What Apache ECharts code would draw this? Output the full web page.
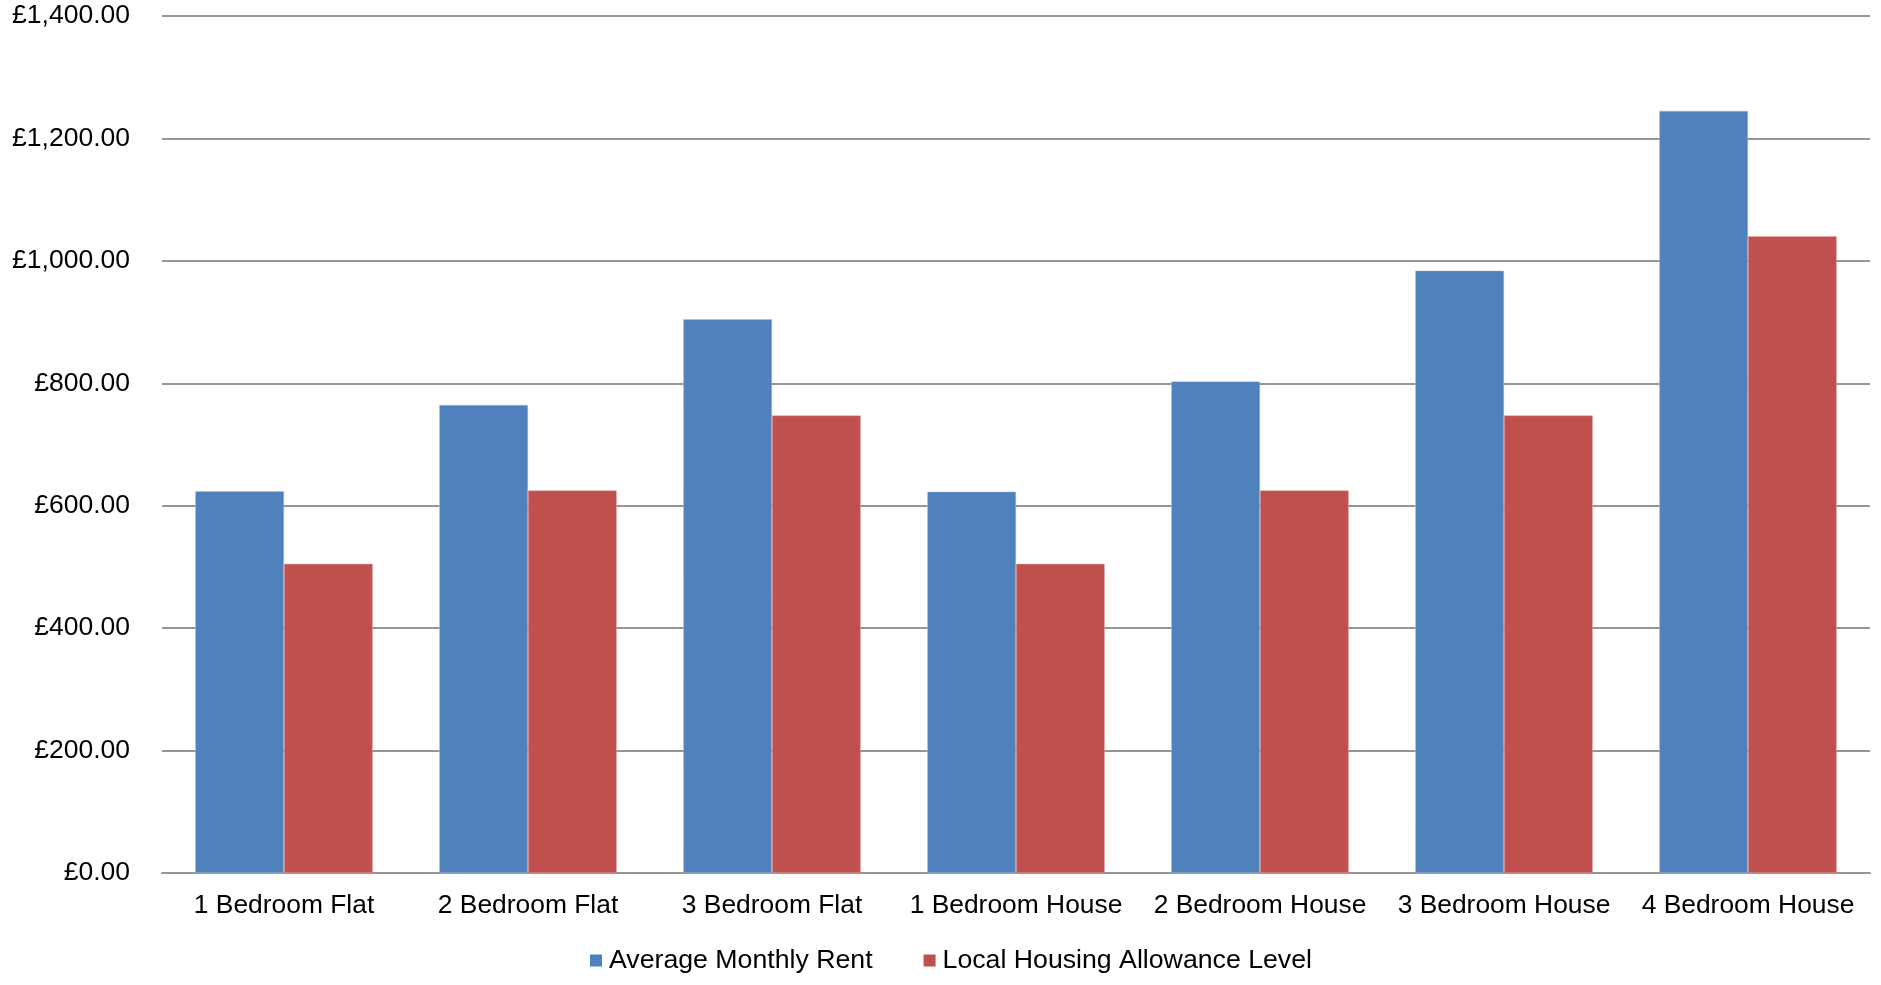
<!DOCTYPE html>
<html>
<head>
<meta charset="utf-8">
<script src="https://cdn.jsdelivr.net/npm/echarts@6/dist/echarts.min.js"></script>
<style>
html,body{margin:0;padding:0;background:#fff;}
#chart{width:1881px;height:985px;}
</style>
</head>
<body>
<div id="chart"></div>
<script>
const categories = ["1 Bedroom Flat","2 Bedroom Flat","3 Bedroom Flat","1 Bedroom House","2 Bedroom House","3 Bedroom House","4 Bedroom House"];
const averageMonthlyRent = [623.5, 764.5, 904.5, 623, 803, 984, 1245];
const localHousingAllowance = [505, 625, 747.5, 505, 625, 747.5, 1040];
const seriesNames = ["Average Monthly Rent","Local Housing Allowance Level"];

function gbp(v){
  const parts = Number(v).toFixed(2).split('.');
  parts[0] = parts[0].replace(/\B(?=(\d{3})+(?!\d))/g, ',');
  return '£' + parts.join('.');
}

const font = 'Liberation Sans, Arial, sans-serif';
const chart = echarts.init(document.getElementById('chart'));
chart.setOption({
  animation: false,
  backgroundColor: '#ffffff',
  grid: {left: 162, right: 11, top: 16, bottom: 112, containLabel: false},
  legend: {
    left: 585, top: 942,
    itemWidth: 12, itemHeight: 12, itemGap: 51,
    icon: 'rect',
    itemStyle: {borderWidth: 0},
    textStyle: {fontFamily: font, fontSize: 26.7, color: '#000', padding: [0,0,0,2]},
    data: seriesNames
  },
  xAxis: {
    type: 'category',
    data: categories,
    axisTick: {show: false},
    axisLine: {lineStyle: {color: '#969696', width: 2}},
    axisLabel: {fontFamily: font, fontSize: 26.4, color: '#000', margin: 20, interval: 0}
  },
  yAxis: {
    type: 'value',
    min: 0, max: 1400, interval: 200,
    axisLine: {show: false},
    axisTick: {show: false},
    splitLine: {lineStyle: {color: '#969696', width: 2}},
    axisLabel: {fontFamily: font, fontSize: 26.5, color: '#000', margin: 32, formatter: gbp}
  },
  series: [
    {name: seriesNames[0], type: 'bar', data: averageMonthlyRent, barGap: '0%', barCategoryGap: '27.3%',
     itemStyle: {color: '#4F81BD', borderColor: '#a9c1e0', borderWidth: 0.5}},
    {name: seriesNames[1], type: 'bar', data: localHousingAllowance, barGap: '0%', barCategoryGap: '27.3%',
     itemStyle: {color: '#C0504D', borderColor: '#e0a8a6', borderWidth: 0.5}}
  ]
});
</script>
</body>
</html>
